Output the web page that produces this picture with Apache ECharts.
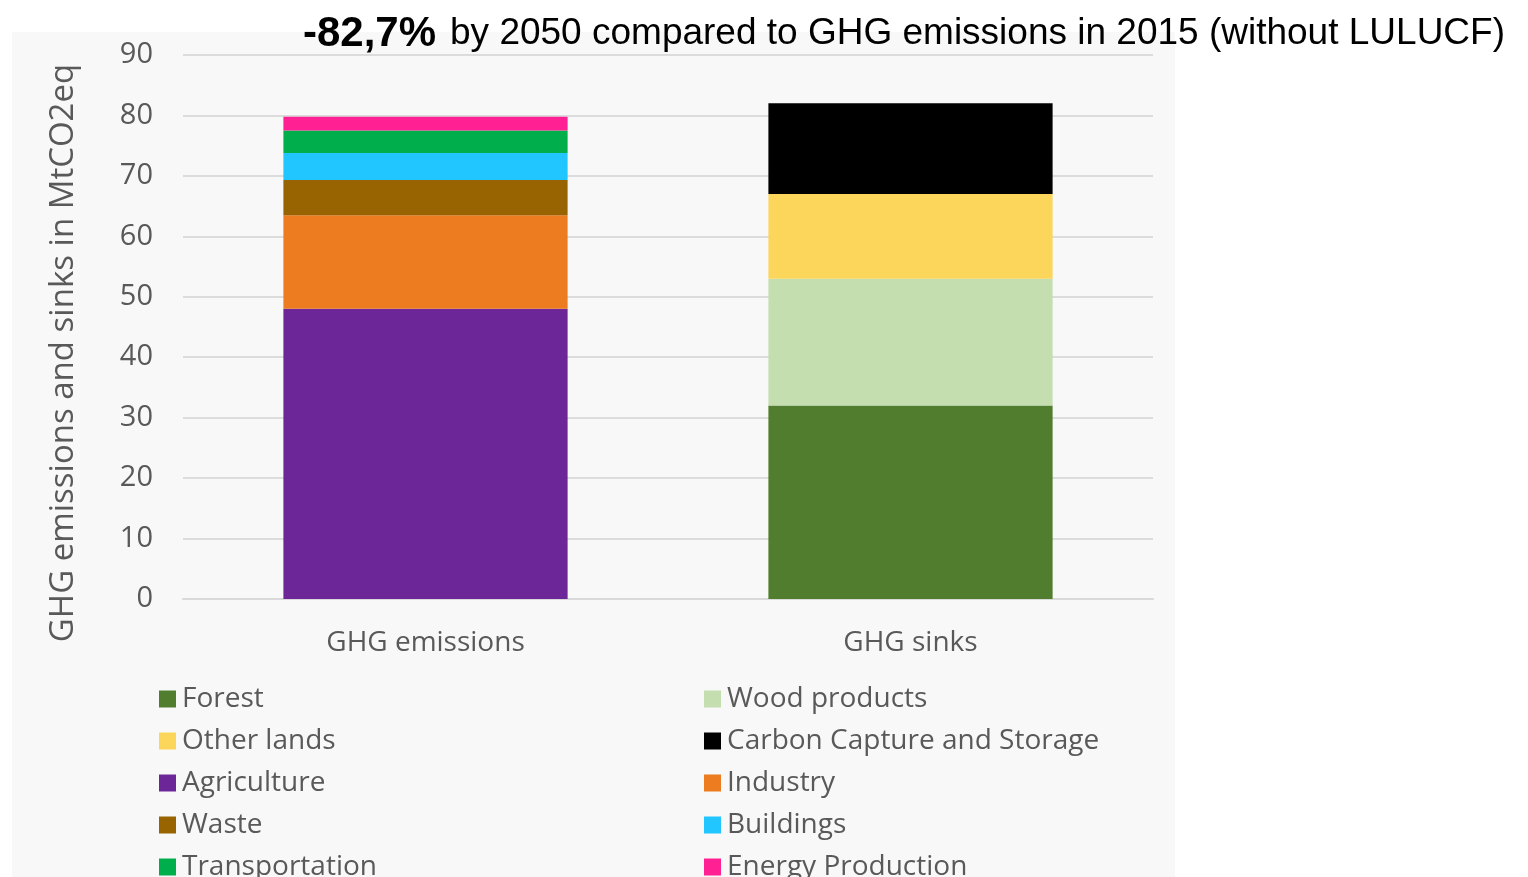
<!DOCTYPE html>
<html>
<head>
<meta charset="utf-8">
<script src="https://cdn.jsdelivr.net/npm/echarts@6/dist/echarts.min.js"></script>
<style>
  html, body { margin: 0; padding: 0; background: #fff; }
  #chart { width: 1528px; height: 877px; }
</style>
</head>
<body>
<div id="chart"></div>
<script>
// categories and values (MtCO2eq)
const categories = ['GHG emissions', 'GHG sinks']
const yTicks = [0, 10, 20, 30, 40, 50, 60, 70, 80, 90]

// emissions, bottom to top
const agriculture = [48, null]
const industry = [15.5, null]
const waste = [5.8, null]
const buildings = [4.5, null]
const transportation = [3.7, null]
const energyProduction = [2.3, null]

// sinks, bottom to top
const forest = [null, 32]
const woodProducts = [null, 21]
const otherLands = [null, 14]
const ccs = [null, 15]

const colors = {
  'Forest': '#507e2e',
  'Wood products': '#c4deb0',
  'Other lands': '#fcd65a',
  'Carbon Capture and Storage': '#000000',
  'Agriculture': '#6c2698',
  'Industry': '#ed7b1f',
  'Waste': '#976401',
  'Buildings': '#21c5ff',
  'Transportation': '#00ae4b',
  'Energy Production': '#ff2193'
}

const seriesList = [
  ['Agriculture', agriculture],
  ['Industry', industry],
  ['Waste', waste],
  ['Buildings', buildings],
  ['Transportation', transportation],
  ['Energy Production', energyProduction],
  ['Forest', forest],
  ['Wood products', woodProducts],
  ['Other lands', otherLands],
  ['Carbon Capture and Storage', ccs]
]

const textColor = '#595959'
const font = 'Open Sans'

const legendBase = {
  orient: 'vertical',
  top: 680,
  height: 400,
  itemWidth: 17,
  itemHeight: 17,
  itemGap: 14,
  icon: 'rect',
  textStyle: { fontSize: 28, color: textColor, fontFamily: font, padding: [0, 0, 0, 1] }
}

const chart = echarts.init(document.getElementById('chart'))
chart.setOption({
  animation: false,
  backgroundColor: '#ffffff',
  graphic: [
    {
      type: 'rect',
      z: -10,
      shape: { x: 12, y: 32, width: 1163, height: 845 },
      style: { fill: '#f8f8f8' }
    }
  ],
  title: {
    right: 18,
    top: 8,
    text: '{b|-82,7%}{n|by 2050 compared to GHG emissions in 2015 (without LULUCF)}',
    textStyle: {
      rich: {
        b: { fontSize: 42, fontWeight: 'bold', color: '#000', fontFamily: 'Liberation Sans', padding: [0, 14, 0, 0] },
        n: { fontSize: 37, fontWeight: 'normal', color: '#000', fontFamily: 'Liberation Sans' }
      }
    }
  },
  legend: [
    Object.assign({}, legendBase, {
      left: 154,
      data: ['Forest', 'Other lands', 'Agriculture', 'Waste', 'Transportation']
    }),
    Object.assign({}, legendBase, {
      left: 699,
      data: ['Wood products', 'Carbon Capture and Storage', 'Industry', 'Buildings', 'Energy Production']
    })
  ],
  grid: { left: 183, right: 375, top: 55, bottom: 278 },
  xAxis: {
    type: 'category',
    data: categories,
    axisLine: { lineStyle: { color: '#d9d9d9', width: 2 } },
    axisTick: { show: false },
    axisLabel: { fontSize: 28, color: textColor, fontFamily: font, margin: 30 }
  },
  yAxis: {
    type: 'value',
    min: yTicks[0],
    max: yTicks[yTicks.length - 1],
    interval: 10,
    name: 'GHG emissions and sinks in MtCO2eq',
    nameLocation: 'middle',
    nameGap: 103,
    nameTextStyle: { fontSize: 33, color: textColor, fontFamily: font, padding: [0, 52, 0, 0] },
    axisLine: { show: false },
    axisTick: { show: false },
    splitLine: { lineStyle: { color: '#dcdcdc', width: 2 } },
    axisLabel: { fontSize: 29, color: textColor, fontFamily: font, margin: 30 }
  },
  series: seriesList.map(([name, data]) => ({
    name,
    type: 'bar',
    stack: 'total',
    barWidth: '58.6%',
    data,
    itemStyle: { color: colors[name] }
  }))
})
</script>
</body>
</html>
